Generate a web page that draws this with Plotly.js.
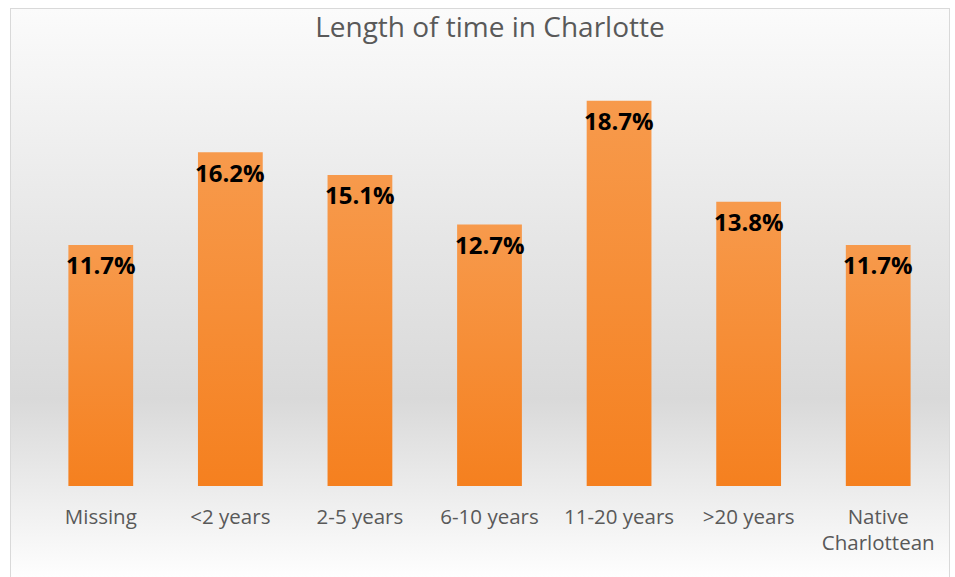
<!DOCTYPE html>
<html>
<head>
<meta charset="utf-8">
<script src="https://cdn.plot.ly/plotly-3.0.1.min.js"></script>
<style>
  html, body { margin: 0; padding: 0; background: #ffffff; }
  #bg { position: absolute; left: 10px; top: 8px; width: 940px; height: 575px;
        border: 1px solid #d9d9d9; box-sizing: border-box;
        background: linear-gradient(to bottom, #fbfbfb 0%, #e6e6e6 40%, #d9d9d9 68%, #ffffff 100%); }
  #chart { position: absolute; left: 0; top: 0; width: 955px; height: 577px; }
  #chart .barlayer .point path { fill: url(#barGrad) !important; }
</style>
</head>
<body>
<svg width="0" height="0" style="position:absolute">
  <defs>
    <linearGradient id="barGrad" x1="0" y1="0" x2="0" y2="1">
      <stop offset="0%" stop-color="#f79a4c"/>
      <stop offset="100%" stop-color="#f5801f"/>
    </linearGradient>
  </defs>
</svg>
<div id="bg"></div>
<div id="chart"></div>
<script>
const categories = ["Missing", "<2 years", "2-5 years", "6-10 years", "11-20 years", ">20 years", "Native<br>Charlottean"];
const values = [11.7, 16.2, 15.1, 12.7, 18.7, 13.8, 11.7];
const labels = ["11.7%", "16.2%", "15.1%", "12.7%", "18.7%", "13.8%", "11.7%"];

const FONT = "'Open Sans', Lato, sans-serif";

const trace = {
  type: "bar",
  x: categories,
  y: values,
  marker: { color: "#f68c36" },
  hoverinfo: "none"
};

const annotations = categories.map((c, i) => ({
  x: c, y: values[i], xref: "x", yref: "y",
  text: "<b>" + labels[i] + "</b>",
  showarrow: false, yanchor: "middle", yshift: -20,
  font: { family: FONT, size: 24, color: "#000000" }
}));

const layout = {
  width: 955, height: 577,
  margin: { l: 36, r: 12, t: 74, b: 91 },
  paper_bgcolor: "rgba(0,0,0,0)",
  plot_bgcolor: "rgba(0,0,0,0)",
  bargap: 0.5,
  showlegend: false,
  title: { text: "Length of time in Charlotte", x: 0.513, xanchor: "center", y: 0.952, yanchor: "middle",
           font: { family: FONT, size: 28, color: "#595959" } },
  xaxis: { showline: false, showgrid: false, zeroline: false, ticks: "",
           tickfont: { family: FONT, size: 20.5, color: "#595959" },
           ticklabelstandoff: 16, fixedrange: true },
  yaxis: { visible: false, range: [0, 20], fixedrange: true },
  annotations: annotations
};

Plotly.newPlot("chart", [trace], layout, { displayModeBar: false, staticPlot: true });
</script>
</body>
</html>
